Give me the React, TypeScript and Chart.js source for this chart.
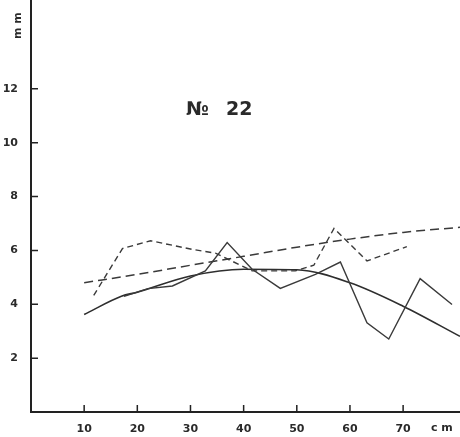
import React, { useEffect, useRef } from "react";
import { Chart, registerables } from "chart.js";

Chart.register(...registerables);

const TITLE_SIGN = "№";
const TITLE_NUM = "22";
const X_UNIT = "c m";
const Y_UNIT = "m m";
const X_TICKS = [10, 20, 30, 40, 50, 60, 70];
const Y_TICKS = [2, 4, 6, 8, 10, 12];

// long-dashed trend
const trendX = [10, 20, 30, 40, 50, 60, 70, 80.7];
const trendY = [4.8, 5.11, 5.45, 5.78, 6.12, 6.42, 6.67, 6.86];

// short-dashed jagged series
const dashX = [11.8, 17.2, 22.5, 30.3, 34.7, 41.6, 49.7, 53.2, 57, 63.2, 70.7];
const dashY = [4.33, 6.07, 6.36, 6.04, 5.9, 5.24, 5.24, 5.45, 6.82, 5.61, 6.14];

// solid jagged series
const solidX = [17.5, 22, 26.6, 32.8, 36.9, 41.6, 46.9, 53.5, 58.2, 63.2, 67.3, 73.2, 79.2];
const solidY = [4.3, 4.58, 4.68, 5.24, 6.29, 5.3, 4.59, 5.11, 5.57, 3.31, 2.71, 4.95, 3.99];

// smooth fitted curve
const curveX = [10, 17, 20, 30, 40, 50, 60, 70, 80.7];
const curveY = [3.62, 4.3, 4.45, 5.05, 5.3, 5.28, 4.8, 3.93, 2.81];

const INK = "#3a3a3a";
const FONT = "'DejaVu Sans', sans-serif";

const pts = (xs: number[], ys: number[]) => xs.map((x, i) => ({ x, y: ys[i] }));

const decorPlugin = {
  id: "decor",
  afterDraw(chart: any) {
    const ctx = chart.ctx;
    const xs = chart.scales.x;
    const ys = chart.scales.y;
    const area = chart.chartArea;
    ctx.save();
    ctx.strokeStyle = "#222";
    ctx.lineWidth = 1.5;
    ctx.beginPath();
    X_TICKS.forEach((v) => {
      const px = xs.getPixelForValue(v);
      ctx.moveTo(px, area.bottom);
      ctx.lineTo(px, area.bottom - 7);
    });
    Y_TICKS.forEach((v) => {
      const py = ys.getPixelForValue(v);
      ctx.moveTo(area.left, py);
      ctx.lineTo(area.left + 7, py);
    });
    ctx.stroke();

    ctx.fillStyle = "#2a2a2a";
    ctx.font = `bold 11px ${FONT}`;
    ctx.textAlign = "left";
    ctx.textBaseline = "top";
    ctx.fillText(X_UNIT, 431, 423);

    ctx.save();
    ctx.translate(18, 39);
    ctx.rotate(-Math.PI / 2);
    ctx.textAlign = "left";
    ctx.textBaseline = "middle";
    ctx.font = `bold 11px ${FONT}`;
    ctx.fillText(Y_UNIT, 0, 0);
    ctx.restore();

    ctx.font = `bold 19px ${FONT}`;
    ctx.textAlign = "left";
    ctx.textBaseline = "alphabetic";
    ctx.fillText(TITLE_SIGN, 186, 115);
    ctx.fillText(TITLE_NUM, 226, 115);
    ctx.restore();
  },
};

export default function App() {
  const ref = useRef<HTMLCanvasElement | null>(null);
  useEffect(() => {
    document.body.style.margin = "0";
    if (!ref.current) return;
    const chart = new Chart(ref.current, {
      type: "line",
      data: {
        datasets: [
          {
            data: pts(trendX, trendY),
            borderColor: INK,
            borderWidth: 1.5,
            borderDash: [9, 5],
            pointRadius: 0,
            tension: 0.4,
            cubicInterpolationMode: "monotone",
          },
          {
            data: pts(dashX, dashY),
            borderColor: INK,
            borderWidth: 1.4,
            borderDash: [6, 4],
            pointRadius: 0,
            tension: 0,
          },
          {
            data: pts(solidX, solidY),
            borderColor: INK,
            borderWidth: 1.4,
            pointRadius: 0,
            tension: 0,
          },
          {
            data: pts(curveX, curveY),
            borderColor: "#2e2e2e",
            borderWidth: 1.6,
            pointRadius: 0,
            tension: 0.4,
            cubicInterpolationMode: "monotone",
          },
        ],
      },
      options: {
        animation: false,
        responsive: false,
        layout: { padding: { top: 0, right: 0, left: 0, bottom: 0 } },
        plugins: { legend: { display: false }, tooltip: { enabled: false }, title: { display: false } },
        scales: {
          x: {
            type: "linear",
            min: 0,
            max: 80.7,
            afterFit: (s: any) => {
              s.height = 25;
              s.paddingLeft = 0;
              s.paddingRight = 0;
            },
            grid: { display: false, drawTicks: false },
            border: { display: true, color: "#222", width: 2 },
            ticks: {
              stepSize: 10,
              padding: 11,
              color: "#2a2a2a",
              font: { family: FONT, size: 11, weight: "bold" },
              callback: (v: any) => (X_TICKS.includes(Number(v)) ? String(v) : ""),
            },
          },
          y: {
            type: "linear",
            min: 0,
            max: 15.3,
            afterFit: (s: any) => {
              s.width = 31;
              s.paddingTop = 0;
              s.paddingBottom = 0;
            },
            grid: { display: false, drawTicks: false },
            border: { display: true, color: "#222", width: 2 },
            ticks: {
              stepSize: 2,
              padding: 13,
              color: "#2a2a2a",
              font: { family: FONT, size: 11, weight: "bold" },
              callback: (v: any) => (Y_TICKS.includes(Number(v)) ? String(v) : ""),
            },
          },
        },
      },
      plugins: [decorPlugin],
    });
    return () => chart.destroy();
  }, []);
  return <canvas ref={ref} width={460} height={437} style={{ display: "block" }} />;
}
